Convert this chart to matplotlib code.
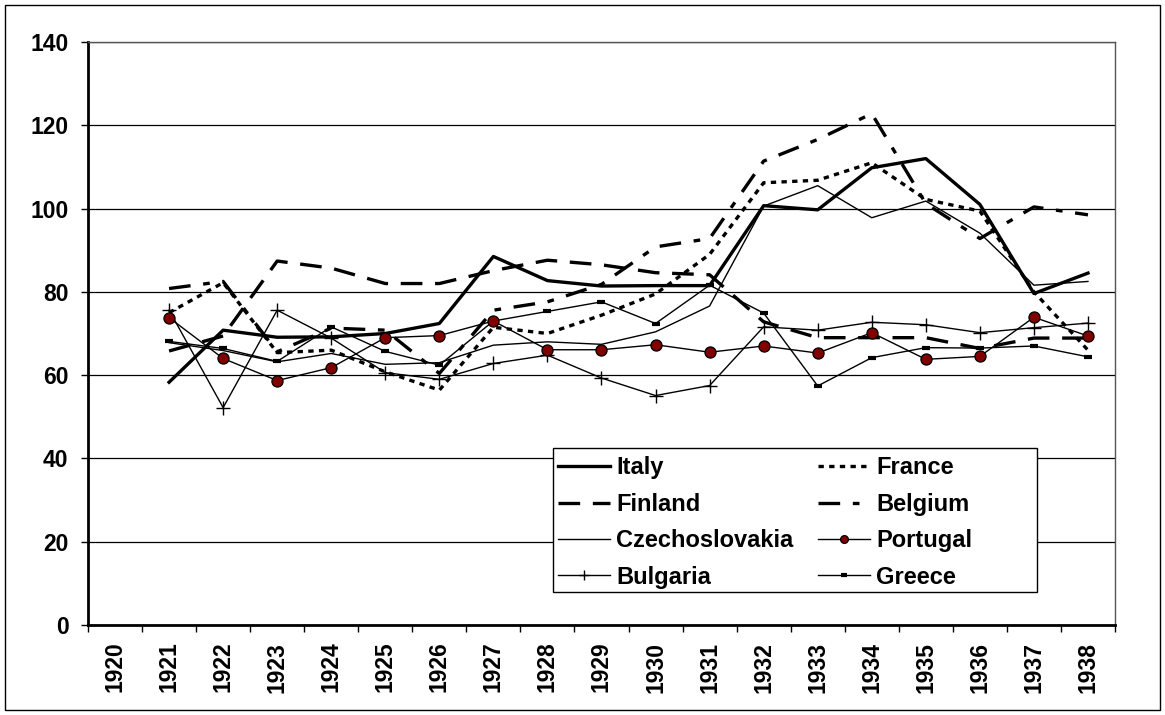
import matplotlib
matplotlib.use("Agg")
import matplotlib.pyplot as plt
from matplotlib.patches import Rectangle
import numpy as np

plt.rcParams['font.family'] = ['Liberation Sans', 'DejaVu Sans']

years = [str(y) for y in range(1920, 1939)]
NA = np.nan
italy    = [NA, 58.3, 70.8, 69.1, 69.2, 70.0, 72.4, 88.5, 82.7, 81.4, 81.5, 81.5, 100.7, 99.7, 109.8, 112.0, 101.0, 79.6, 84.5]
france   = [NA, 75.0, 82.2, 65.4, 66.0, 60.8, 56.4, 71.5, 70.0, 74.4, 79.5, 89.0, 106.2, 106.8, 111.0, 102.2, 99.4, 80.0, 66.0]
finland  = [NA, 65.8, 69.4, 87.4, 85.7, 82.0, 82.0, 85.1, 87.6, 86.5, 84.6, 84.1, 72.8, 69.0, 69.0, 69.0, 66.4, 68.9, 68.9]
belgium  = [NA, 80.8, 82.5, 65.6, 71.3, 70.8, 60.4, 75.6, 77.6, 81.8, 90.8, 92.8, 111.4, 116.6, 122.8, 101.2, 92.8, 100.4, 98.5]
czech    = [NA, 67.8, 65.9, 63.2, 65.2, 62.6, 63.0, 67.2, 68.0, 67.4, 70.4, 76.6, 100.6, 105.5, 97.8, 101.8, 94.1, 81.6, 82.5]
portugal = [NA, 73.8, 64.0, 58.7, 61.8, 69.0, 69.5, 73.0, 66.1, 66.1, 67.3, 65.5, 67.0, 65.3, 70.2, 63.8, 64.5, 73.9, 69.4]
bulgaria = [NA, 75.6, 52.2, 75.6, 68.9, 60.6, 59.0, 62.8, 64.8, 59.3, 55.1, 57.5, 71.6, 70.8, 72.7, 72.1, 70.2, 71.4, 72.5]
greece   = [NA, 68.1, 66.4, 63.3, 71.6, 65.7, 62.4, 73.0, 75.3, 77.6, 72.4, 81.6, 74.9, 57.4, 64.2, 66.6, 66.5, 67.0, 64.4]
y_ticks = [0, 20, 40, 60, 80, 100, 120, 140]

W, H = 1165, 715
fig = plt.figure(figsize=(W/100, H/100), dpi=100)
ax = fig.add_axes([88/W, 1-625/H, (1115-88)/W, (625-42)/H])

x = np.arange(len(years))
thick = 2.4
thin = 1.0
h_it, = ax.plot(x, italy, color='black', lw=thick, label='Italy', zorder=5)
h_fr, = ax.plot(x, france, color='black', lw=thick, dashes=(1.6, 1.6), label='France', zorder=5)
h_fi, = ax.plot(x, finland, color='black', lw=thick, dashes=(6.5, 3.8), label='Finland', zorder=5)
h_be, = ax.plot(x, belgium, color='black', lw=thick, dashes=(6.5, 3.8, 2.0, 3.8), label='Belgium', zorder=5)
h_cz, = ax.plot(x, czech, color='black', lw=thin, label='Czechoslovakia', zorder=4)
h_pt, = ax.plot(x, portugal, color='black', lw=thin, marker='o', ms=8, mfc='#800000', mec='black', mew=0.9,
                label='Portugal', zorder=6)
h_bg, = ax.plot(x, bulgaria, color='black', lw=thin, marker='+', ms=10, mew=1.0, label='Bulgaria', zorder=4)
h_gr, = ax.plot(x, greece, color='black', lw=thin, marker='_', ms=6, mew=3, label='Greece', zorder=4)

ax.set_xlim(-0.5, len(years) - 0.5)
ax.set_ylim(0, 140)
ax.set_yticks(y_ticks)
ax.set_yticklabels([str(v) for v in y_ticks], fontsize=16.5, fontweight='bold')
ax.set_xticks(x)
ax.set_xticklabels(years, rotation=90, fontsize=16.5, fontweight='bold')
ax.set_xticks(np.arange(-0.5, len(years), 1.0), minor=True)
ax.tick_params(axis='x', which='major', length=0, pad=12)
ax.tick_params(axis='x', which='minor', length=5, width=1, direction='out')
ax.tick_params(axis='y', length=5, width=1, direction='out', pad=9)
ax.grid(axis='y', color='black', lw=0.9, zorder=0)
ax.set_axisbelow(True)
for s in ['left', 'bottom']:
    ax.spines[s].set_linewidth(2)
    ax.spines[s].set_color('black')
for s in ['top', 'right']:
    ax.spines[s].set_linewidth(1)
    ax.spines[s].set_color('#555555')

# legend box
fig.patches.append(Rectangle((553/W, 1-592/H), (1037-553)/W, (592-448)/H, transform=fig.transFigure,
                             facecolor='white', edgecolor='black', lw=1, zorder=1))
handles = [h_it, h_fi, h_cz, h_bg, h_fr, h_be, h_pt, h_gr]
leg = fig.legend(handles=handles, labels=[h.get_label() for h in handles],
                 loc='upper left', bbox_to_anchor=(556/W, 1-454/H), ncol=2,
                 prop={'weight': 'bold', 'size': 17}, frameon=False, markerscale=0.7,
                 handlelength=2.2, handletextpad=0.25, columnspacing=1.05,
                 labelspacing=0.57, borderpad=0.1, borderaxespad=0)
leg.set_zorder(3)

fig.patches.append(Rectangle((5/W, 5/H), 1155/W, 705/H, transform=fig.transFigure,
                             fill=False, edgecolor='black', lw=1, zorder=0))
fig.savefig('out.png', dpi=100)
